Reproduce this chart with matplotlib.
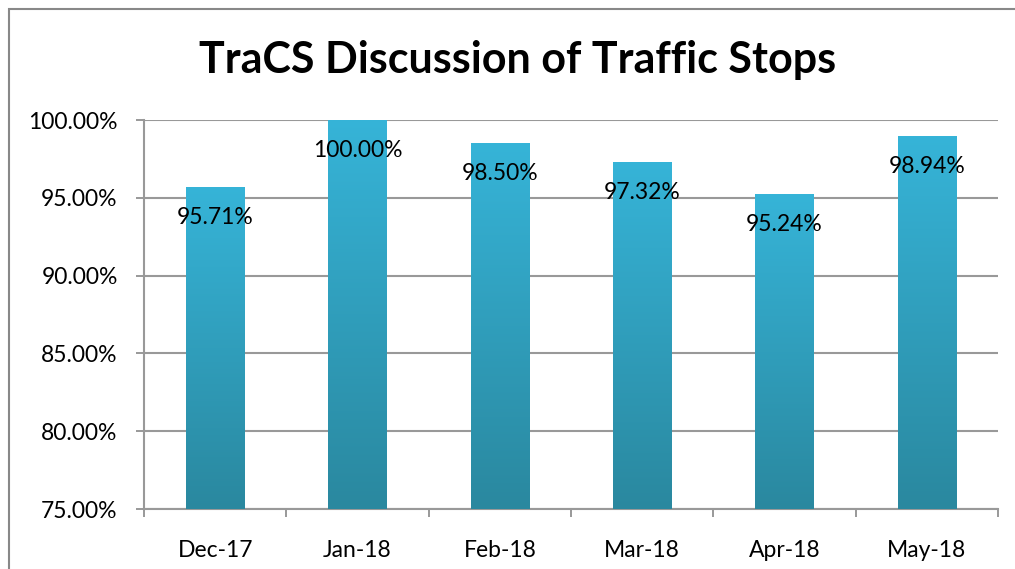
import matplotlib.pyplot as plt
import numpy as np
from matplotlib.colors import LinearSegmentedColormap
from matplotlib.patches import Rectangle

# Data
months = ["Dec-17", "Jan-18", "Feb-18", "Mar-18", "Apr-18", "May-18"]
values = [95.71, 100.00, 98.50, 97.32, 95.24, 98.94]
yticks = [75, 80, 85, 90, 95, 100]

plt.rcParams['font.family'] = ['Lato', 'DejaVu Sans']

fig = plt.figure(figsize=(10.15, 5.69), dpi=100)
ax = fig.add_axes([0.1419, 0.1054, 0.8414, 0.6837])

x = np.arange(len(months))
bars = ax.bar(x, values, width=0.41, color='none', bottom=0, zorder=3)

# vertical gradient inside each bar
grad = LinearSegmentedColormap.from_list("bar", ["#2a889f", "#36b4d8"])
g = np.linspace(0, 1, 256).reshape(-1, 1)
for b, v in zip(bars, values):
    x0 = b.get_x()
    w = b.get_width()
    im = ax.imshow(g, cmap=grad, origin='lower', aspect='auto',
                   extent=[x0, x0 + w, 75, v], zorder=3)
    im.set_clip_path(b)

for xi, v in zip(x, values):
    ax.text(xi, v - 1.95, f"{v:.2f}%", ha='center', va='center',
            fontsize=16.5, color='black', zorder=4)

ax.set_xlim(-0.5, len(months) - 0.5)
ax.set_ylim(75, 100)
ax.set_yticks(yticks)
ax.set_yticklabels([f"{t:.2f}%" for t in yticks], fontsize=16.5)
ax.set_xticks(x)
ax.set_xticklabels(months, fontsize=16.5)
ax.set_xticks(np.arange(-0.5, len(months)), minor=True)

ax.tick_params(axis='x', which='major', length=0, pad=22)
ax.tick_params(axis='x', which='minor', length=6, color='#888888', width=1.2)
ax.tick_params(axis='y', length=6, color='#888888', width=1.2, pad=13)

ax.grid(axis='y', color='#999999', linewidth=1.5, zorder=0)
ax.set_axisbelow(True)
for s in ['top', 'right']:
    ax.spines[s].set_visible(False)
for s in ['left', 'bottom']:
    ax.spines[s].set_color('#999999')
    ax.spines[s].set_linewidth(1.5)

fig.text(0.51, 0.895, "TraCS Discussion of Traffic Stops", ha='center',
         va='center', fontsize=31, fontweight='bold')

# outer chart frame
fig.patches.append(Rectangle((9 / 1015, -0.1), 1.2, 0.984 + 0.1,
                             transform=fig.transFigure, fill=False,
                             edgecolor='#888888', linewidth=1.5))

fig.savefig("out.png", dpi=100)
